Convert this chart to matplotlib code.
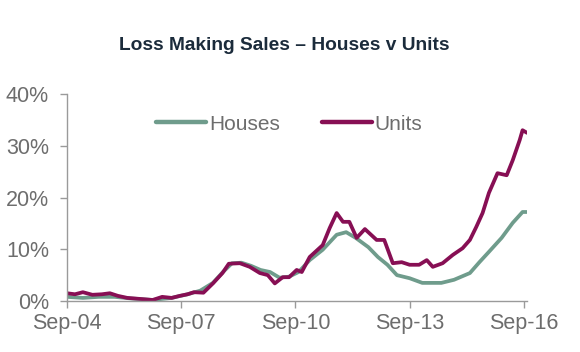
import matplotlib
matplotlib.use("Agg")
import matplotlib.pyplot as plt

# Months since Sep-04
units_months = [0, 2.5, 5, 8, 11, 13.5, 16, 19, 23, 27, 30, 33, 35.6, 38, 40, 43, 46, 49, 51,
                54.5, 57.6, 60.8, 63.3, 65.5, 68, 70, 72.4, 74, 76.5, 80.6, 82.8, 85, 87, 89,
                91.3, 93.9, 97.6, 100, 102.7, 105.5, 108, 111, 113.4, 115.3, 118.4, 121.6,
                124.7, 127, 129, 131, 133, 135.7, 138.6, 140.5, 142.7, 143.6, 145]
units_vals = [1.5, 1.3, 1.7, 1.2, 1.3, 1.5, 1.0, 0.6, 0.4, 0.2, 0.8, 0.6, 1.0, 1.3, 1.7, 1.6,
              3.4, 5.4, 7.2, 7.3, 6.6, 5.4, 5.0, 3.4, 4.6, 4.6, 6.0, 5.6, 8.5, 10.8, 14.1, 17.0,
              15.3, 15.3, 12.2, 13.9, 11.8, 11.8, 7.3, 7.5, 7.0, 7.0, 7.9, 6.6, 7.3, 8.9, 10.2,
              11.8, 14.3, 17.0, 20.9, 24.7, 24.3, 27.2, 31.1, 33.0, 32.5]

houses_months = [0, 5, 10, 15, 20, 27, 33, 38, 42, 46, 49, 52, 55, 58, 61, 64, 67, 70, 73,
                 76.5, 80.6, 85, 88, 91, 95, 98, 101, 104, 108, 112, 118, 122, 127, 130, 133,
                 137, 140.5, 143.6, 145]
houses_vals = [0.8, 0.6, 0.8, 0.8, 0.5, 0.2, 0.6, 1.3, 2.0, 3.5, 5.5, 7.3, 7.4, 6.8, 6.0, 5.6,
               4.5, 4.7, 5.6, 7.9, 9.9, 12.8, 13.3, 12.2, 10.4, 8.5, 7.0, 5.0, 4.4, 3.5, 3.5,
               4.1, 5.4, 7.5, 9.5, 12.2, 15.1, 17.2, 17.2]

tick_months = [0, 36, 72, 108, 144]
tick_labels = ["Sep-04", "Sep-07", "Sep-10", "Sep-13", "Sep-16"]
y_ticks = [0, 10, 20, 30, 40]
y_labels = ["0%", "10%", "20%", "30%", "40%"]

plt.rcParams['font.family'] = ['Liberation Sans', 'DejaVu Sans']

fig = plt.figure(figsize=(5.8, 3.52), dpi=100)
ax = fig.add_axes([67/580, 1 - 301/352, (527 - 67)/580, (301 - 94)/352])

green = "#6f9c8c"
purple = "#870f54"
ax.plot(houses_months, houses_vals, color=green, lw=2.7, label="Houses",
        solid_joinstyle="round", solid_capstyle="round")
ax.plot(units_months, units_vals, color=purple, lw=2.7, label="Units",
        solid_joinstyle="round", solid_capstyle="round")

ax.set_xlim(0, 145)
ax.set_ylim(0, 40)
ax.set_xticks(tick_months)
ax.set_xticklabels(tick_labels)
ax.set_yticks(y_ticks)
ax.set_yticklabels(y_labels)

for s in ["top", "right"]:
    ax.spines[s].set_visible(False)
for s in ["left", "bottom"]:
    ax.spines[s].set_color("#9a9a9a")
    ax.spines[s].set_linewidth(1.0)
ax.tick_params(axis="both", colors="#9a9a9a", labelcolor="#6d6d6d", labelsize=15.5,
               length=5, width=1.0, direction="out")
ax.tick_params(axis="y", pad=8)
ax.tick_params(axis="x", pad=4)

leg = ax.legend(loc="center", bbox_to_anchor=(0.483, 0.855), ncol=2, frameon=False,
                fontsize=15, handlelength=2.4, handletextpad=0.15, columnspacing=2.0)
for t in leg.get_texts():
    t.set_color("#6d6d6d")
for l in leg.get_lines():
    l.set_linewidth(3.2)

fig.text(284/580, 1 - 45/352, "Loss Making Sales \u2013 Houses v Units", ha="center", va="center",
         fontsize=13.8, fontweight="bold", color="#1b2b3b")

fig.savefig("out.png", dpi=100)
